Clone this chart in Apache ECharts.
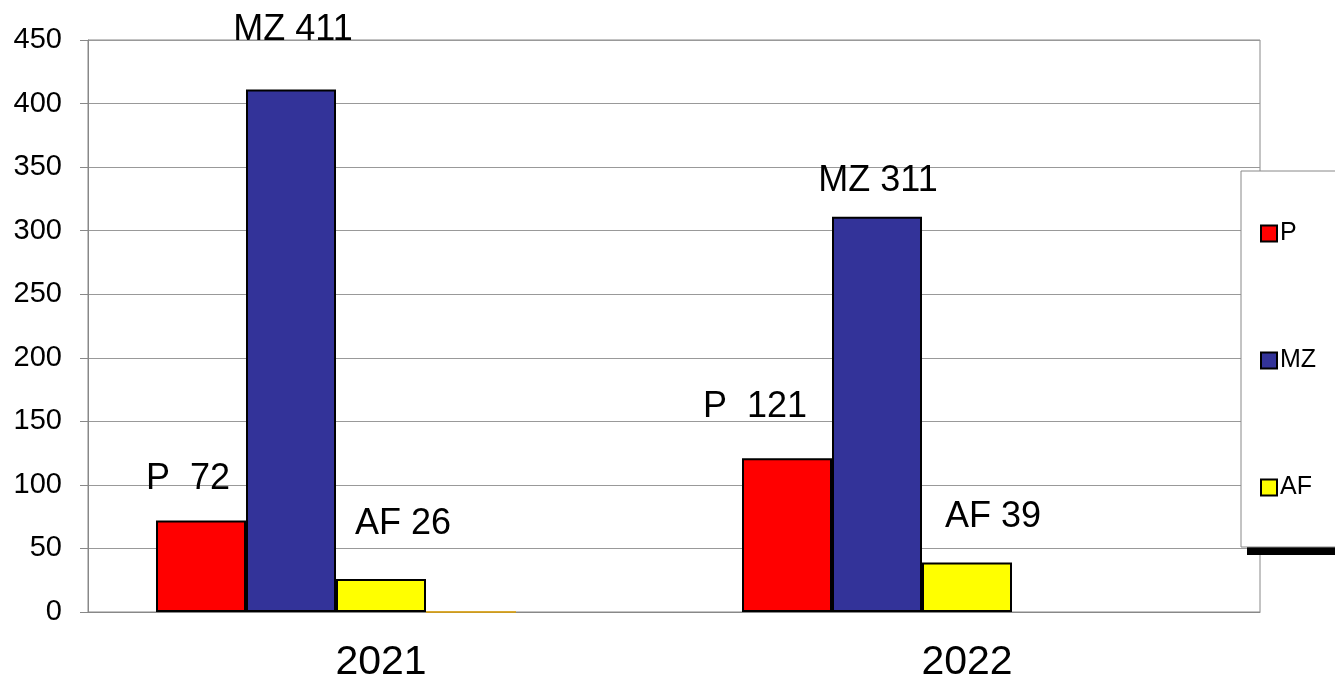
<!DOCTYPE html>
<html>
<head>
<meta charset="utf-8">
<script src="https://cdn.jsdelivr.net/npm/echarts@6/dist/echarts.min.js"></script>
<style>
  html, body { margin: 0; padding: 0; background: #fff; }
  #chart { width: 1335px; height: 679px; }
</style>
</head>
<body>
<div id="chart"></div>
<script>
// data
const years = ['2021', '2022']
const pValues = [72, 121]
const mzValues = [411, 311]
const afValues = [26, 39]
const extraValues = [0, null] // empty series slot (thin line in 2021)
const yTicks = [0, 50, 100, 150, 200, 250, 300, 350, 400, 450]

// label offsets per bar (style only)
const pOffsets = [[-13, -18], [-32, -28]]
const mzOffsets = [[2, -36], [1, -13]]
const afOffsets = [[22, -32], [26, -22]]

const FONT = 'Liberation Sans, Arial, sans-serif'

function labelled(values, offsets, prefix) {
  return values.map((v, i) => ({
    value: v,
    label: { offset: offsets[i], formatter: prefix + v },
  }))
}

function barSeries(name, color, data, showLabel) {
  return {
    name: name,
    type: 'bar',
    barWidth: 90,
    barGap: '0%',
    data: data,
    itemStyle: { color: color, borderColor: '#000', borderWidth: 2 },
    label: {
      show: showLabel,
      position: 'top',
      distance: 5,
      color: '#000',
      fontSize: 36,
      fontFamily: FONT,
    },
    emphasis: { disabled: true },
  }
}

const chart = echarts.init(document.getElementById('chart'))
chart.setOption({
  animation: false,
  textStyle: { fontFamily: FONT },
  grid: {
    left: 88, right: 75, top: 40, bottom: 67,
    outerBoundsMode: 'none',
    show: true, borderColor: '#888', borderWidth: 1,
  },
  // legend drop shadow (black strip under the box)
  graphic: [{
    type: 'rect',
    z: 1,
    shape: { x: 1247, y: 177, width: 200, height: 378 },
    style: { fill: '#000' },
  }],
  legend: {
    data: ['P', 'MZ', 'AF'],
    orient: 'vertical',
    left: 1241,
    top: 171,
    z: 5,
    itemWidth: 16,
    itemHeight: 16,
    itemGap: 102,
    icon: 'rect',
    padding: [50, 60, 47, 19],
    backgroundColor: '#fff',
    borderColor: '#888',
    borderWidth: 1,
    textStyle: { fontSize: 25, color: '#000', padding: [0, 0, 0, -2] },
    itemStyle: { borderColor: '#000', borderWidth: 2 },
    selectedMode: false,
  },
  xAxis: {
    type: 'category',
    data: years,
    axisLine: { lineStyle: { color: '#888', width: 1 } },
    axisTick: { show: false },
    axisLabel: { fontSize: 41, color: '#000', margin: 30 },
  },
  yAxis: {
    type: 'value',
    min: yTicks[0],
    max: yTicks[yTicks.length - 1],
    interval: yTicks[1] - yTicks[0],
    axisLine: { show: true, lineStyle: { color: '#888', width: 1 } },
    axisTick: { show: true, length: 8, lineStyle: { color: '#888' } },
    axisLabel: { fontSize: 29, color: '#000', margin: 26 },
    splitLine: { lineStyle: { color: '#999', width: 1 } },
  },
  series: [
    barSeries('P', '#ff0000', labelled(pValues, pOffsets, 'P  '), true),
    barSeries('MZ', '#333399', labelled(mzValues, mzOffsets, 'MZ '), true),
    barSeries('AF', '#ffff00', labelled(afValues, afOffsets, 'AF '), true),
    Object.assign(barSeries('extra', '#e0a000', extraValues, false), {
      itemStyle: { color: '#e0a000', borderColor: '#e0a000', borderWidth: 1 },
    }),
    barSeries('empty', '#fff', [null, null], false),
  ],
})
</script>
</body>
</html>
